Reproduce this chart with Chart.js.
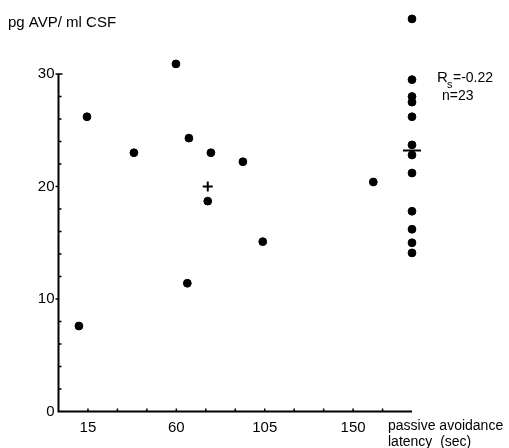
<!DOCTYPE html>
<html>
<head>
<meta charset="utf-8">
<script src="https://cdn.jsdelivr.net/npm/chart.js@4/dist/chart.umd.min.js"></script>
<style>
  html, body { margin: 0; padding: 0; background: #fff; }
  #wrap { width: 509px; height: 448px; }
</style>
</head>
<body>
<div id="wrap"><canvas id="myChart" width="509" height="448"></canvas></div>
<script>
// latency (sec) and AVP (pg/ml CSF), one pair per animal
const latency = [10.4, 14.5, 38.4, 59.8, 65.6, 66.4, 76, 77.6, 93.9, 104, 160.3,
                 180, 180, 180, 180, 180, 180, 180, 180, 180, 180, 180, 180];
const avp = [7.6, 26.2, 23.0, 30.9, 11.4, 24.3, 18.7, 23.0, 22.2, 15.1, 20.4,
             34.9, 29.5, 28.0, 27.5, 26.2, 23.7, 22.8, 21.2, 17.8, 16.2, 15.0, 14.1];

// medians drawn as markers
const medianLatency = [76, 180];
const medianAvp = [20.0, 23.2];

const xTickLabels = [15, 60, 105, 150];
const yTickLabels = [0, 10, 20, 30];

const FONT = "'Liberation Sans', Arial, sans-serif";

// hand drawn axes: lines only up to 30 on y, small inward ticks
const axesPlugin = {
    id: 'axes',
    afterDraw(chart) {
        const c = chart.ctx;
        const x = chart.scales.x;
        const y = chart.scales.y;
        const x0 = x.getPixelForValue(0);
        const y0 = y.getPixelForValue(0);
        c.save();
        c.strokeStyle = '#000';
        c.lineWidth = 2;
        c.beginPath();
        c.moveTo(x0, y.getPixelForValue(30));
        c.lineTo(x0, y0);
        c.lineTo(x.getPixelForValue(180), y0);
        c.stroke();

        c.lineWidth = 1.5;
        c.beginPath();
        for (let v = 2; v <= 30; v += 2) {
            const py = y.getPixelForValue(v);
            if (v % 10 === 0) {
                c.moveTo(x0 - 3, py);
                c.lineTo(x0, py);
            } else {
                c.moveTo(x0, py);
                c.lineTo(x0 + 3, py);
            }
        }
        const p30 = y.getPixelForValue(30);
        c.moveTo(x0, p30);
        c.lineTo(x0 + 4, p30);
        for (let v = 15; v <= 165; v += 15) {
            const px = x.getPixelForValue(v);
            c.moveTo(px, y0);
            c.lineTo(px, y0 - 3);
        }
        c.stroke();

        // texts
        c.fillStyle = '#000';
        c.textBaseline = 'alphabetic';
        c.textAlign = 'left';
        c.font = '15px ' + FONT;
        c.fillText('pg AVP/ ml CSF', 8, 27);

        c.font = '14px ' + FONT;
        c.fillText('passive avoidance', 388, 430);
        c.fillText('latency  (sec)', 388, 446);

        c.font = '15px ' + FONT;
        c.fillText('R', 437, 82);
        c.font = '11px ' + FONT;
        c.fillText('s', 447, 88);
        c.font = '14px ' + FONT;
        c.fillText('=-0.22', 453, 82);
        c.fillText('n=23', 442, 100);
        c.restore();
    }
};

const ctx = document.getElementById('myChart').getContext('2d');

const data = {
    datasets: [{
        label: 'AVP',
        data: latency.map((v, i) => ({ x: v, y: avp[i] })),
        backgroundColor: '#000',
        borderColor: '#000',
        pointRadius: 3.9,
        pointHoverRadius: 3.9,
        showLine: false
    }, {
        label: 'median',
        data: medianLatency.map((v, i) => ({ x: v, y: medianAvp[i] })),
        borderColor: '#000',
        borderWidth: 2,
        pointStyle: ['cross', 'line'],
        pointRadius: [5, 9],
        showLine: false
    }]
};

const options = {
    responsive: false,
    maintainAspectRatio: false,
    animation: false,
    events: [],
    clip: false,
    layout: {
        autoPadding: false,
        padding: { top: 6.5, right: 97, left: 0, bottom: 0 }
    },
    plugins: {
        legend: { display: false },
        tooltip: { enabled: false }
    },
    scales: {
        x: {
            type: 'linear',
            min: 0,
            max: 180,
            grid: { display: false, drawTicks: false },
            border: { display: false },
            afterFit: (s) => {
                s.height = 36.5;
                s.paddingLeft = 0;
                s.paddingRight = 0;
            },
            afterBuildTicks: (s) => { s.ticks = xTickLabels.map(v => ({ value: v })); },
            ticks: {
                color: '#000',
                padding: 7,
                maxRotation: 0,
                autoSkip: false,
                font: { family: FONT, size: 15 }
            }
        },
        y: {
            min: 0,
            max: 36,
            grid: { display: false, drawTicks: false },
            border: { display: false },
            afterFit: (s) => {
                s.width = 58.5;
                s.paddingTop = 0;
                s.paddingBottom = 0;
            },
            afterBuildTicks: (s) => { s.ticks = yTickLabels.map(v => ({ value: v })); },
            ticks: {
                color: '#000',
                padding: 4,
                font: { family: FONT, size: 15 }
            }
        }
    }
};

const myChart = new Chart(ctx, {
    type: 'scatter',
    data: data,
    options: options,
    plugins: [axesPlugin]
});
</script>
</body>
</html>
